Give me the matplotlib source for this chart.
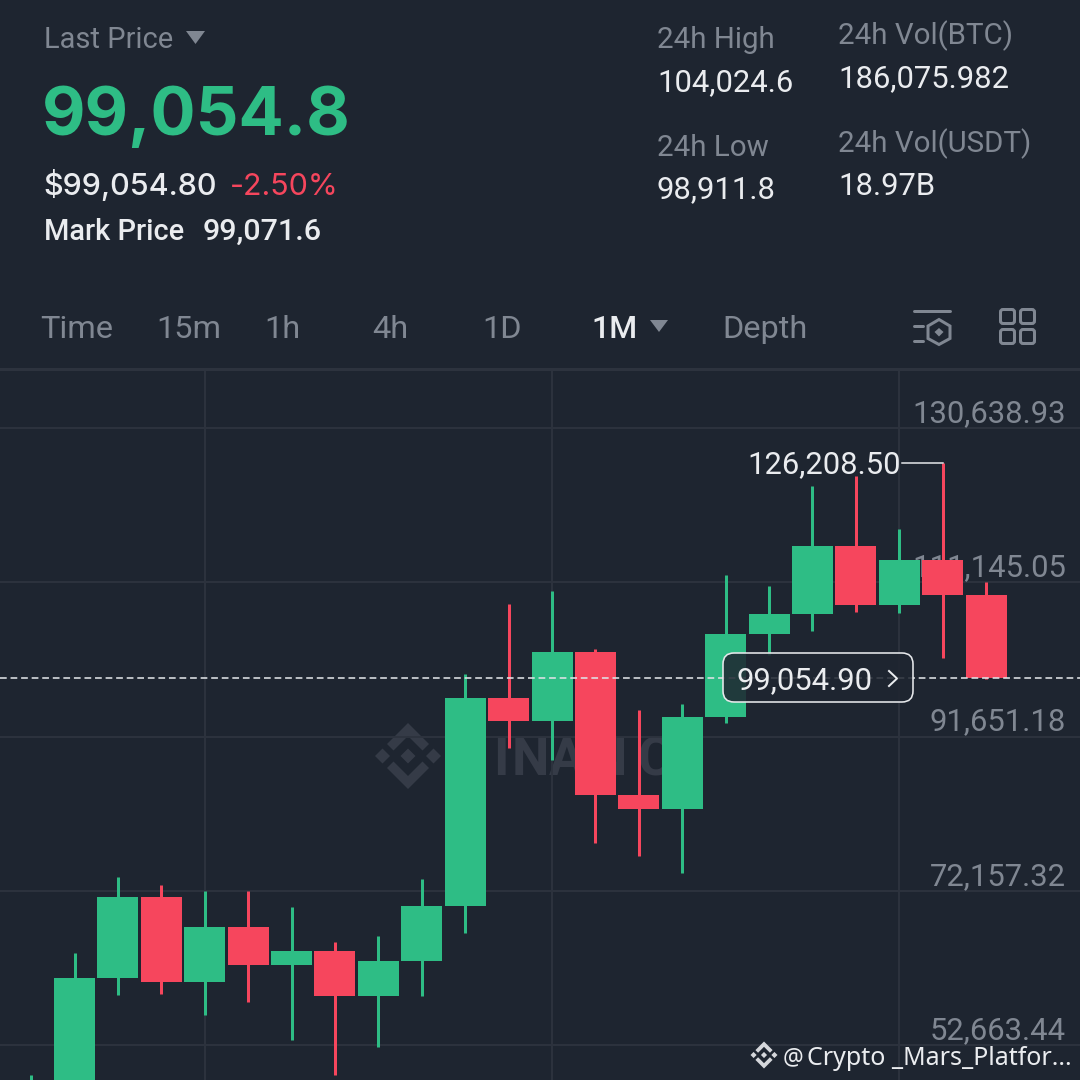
import matplotlib
matplotlib.use("Agg")
import matplotlib.pyplot as plt
from matplotlib.patches import Polygon, FancyBboxPatch, Rectangle

plt.rcParams['font.family'] = ['Roboto', 'DejaVu Sans']

BG = '#1e2530'
GRID = '#2d333e'
GREEN = '#2ebd85'
RED = '#f6465d'
GREY = '#808792'
WHITE = '#eaecef'

# monthly candles, left to right
opens = [40000, 45000, 61130, 71367, 60624, 67575, 62773, 64542, 58855, 63278, 70229, 96516,
         93610, 102330, 84258, 82488, 94115, 104605, 107132, 115726, 108270, 113957, 109534]
closes = [45000, 61130, 71367, 60624, 67575, 62773, 64542, 58855, 63278, 70229, 96516, 93610,
          102330, 84258, 82488, 94115, 104605, 107132, 115726, 108270, 113957, 109534, 99054.9]
highs = [48871, 64289, 73894, 72883, 72125, 72125, 70103, 65680, 66438, 73642, 99550, 108396,
         110039, 102709, 95000, 95758, 112061, 110671, 123309, 124573, 117875, 126208.5, 111176]
lows = [38000, 40000, 58982, 59108, 56454, 58097, 53294, 48871, 52410, 58855, 66817, 90197,
        88681, 78191, 76548, 74400, 93357, 101951, 104984, 107385, 107259, 101572, 98917]

price_ticks = [130638.93, 111145.05, 91651.18, 72157.32, 52663.44]
price_labels = ['130,638.93', '111,145.05', '91,651.18', '72,157.32', '52,663.44']
time_ticks = [4, 12, 20]
last_price = 99054.9
high_label = '126,208.50'

tabs = ['Time', '15m', '1h', '4h', '1D', '1M', 'Depth']
tab_x = [40, 156, 264, 372, 482, 591, 722]

wm_letters = ['B', 'I', 'N', 'A', 'N', 'C']
wm_x = [450, 493, 512, 549, 590, 638]

fig = plt.figure(figsize=(10.8, 10.8), dpi=100, facecolor=BG)


def px(size):
    return size * 0.72


# chart area, pixel row 369 down to 1080
ax = fig.add_axes([0, 0, 1, 711 / 1080], facecolor=BG)
step = 43.41
ax.set_xlim(1 - 74.5 / step, 1 + (1080 - 74.5) / step)
slope = (price_ticks[0] - price_ticks[-1]) / (1045 - 428)
ax.set_ylim(price_ticks[0] - (1080 - 428) * slope, price_ticks[0] - (369 - 428) * slope)
for s in ax.spines.values():
    s.set_visible(False)
ax.set_xticks([])
ax.set_yticks([])

for t in price_ticks:
    ax.axhline(t, color=GRID, lw=1.4, zorder=1)
for t in time_ticks:
    ax.axvline(t, color=GRID, lw=1.4, zorder=1)

for t, lab in zip(price_ticks, price_labels):
    ax.annotate(lab, xy=(1, t), xycoords=('axes fraction', 'data'), xytext=(px(-14), px(6)),
                textcoords='offset points', ha='right', va='baseline', fontsize=px(31),
                color=GREY, zorder=2)

# candles
for i in range(len(opens)):
    c = GREEN if closes[i] >= opens[i] else RED
    ax.vlines(i, lows[i], highs[i], color=c, lw=px(3), zorder=4)
    ax.bar(i, abs(closes[i] - opens[i]), bottom=min(opens[i], closes[i]), width=41 / step,
           color=c, zorder=5)

ax.axhline(last_price, color='#dfe2e6', lw=px(1.6), dashes=(4.2, 2.4), zorder=6)

# everything else in pixel coordinates
ui = fig.add_axes([0, 0, 1, 1], facecolor='none')
ui.set_xlim(0, 1080)
ui.set_ylim(1080, 0)
ui.axis('off')

# watermark goes under the candles
wm = fig.add_axes([0, 0, 1, 1], facecolor='none', zorder=-1)
wm.set_xlim(0, 1080)
wm.set_ylim(1080, 0)
wm.axis('off')
ax.set_zorder(0)
ui.set_zorder(2)


def logo(a, cx, cy, r, color, z=3):
    # binance diamond mark, r is half of the full width
    u = r / 33
    shapes = [
        [(0, -7.5), (7.5, 0), (0, 7.5), (-7.5, 0)],
        [(-33, 0), (-25.5, -7.5), (-18, 0), (-25.5, 7.5)],
        [(33, 0), (25.5, -7.5), (18, 0), (25.5, 7.5)],
        [(0, -33), (21, -12), (14.5, -5.5), (0, -20), (-14.5, -5.5), (-21, -12)],
        [(0, 33), (21, 12), (14.5, 5.5), (0, 20), (-14.5, 5.5), (-21, 12)],
    ]
    for sh in shapes:
        a.add_patch(Polygon([(cx + x * u, cy + y * u) for x, y in sh], closed=True,
                            fc=color, ec='none', zorder=z))


def label(x, y, s, size, color=GREY, weight='normal', ha='left', a=ui, family=None):
    a.text(x, y, s, fontsize=px(size), color=color, fontweight=weight, ha=ha, va='baseline',
           family=family)


# header
label(44, 48, 'Last Price', 29)
ui.add_patch(Polygon([(186, 31), (205, 31), (195.5, 44)], fc=GREY, ec='none'))
label(42, 135, '99,054.8', 67, GREEN, 'bold', family='Inter')
label(43, 195, '$99,054.80', 30.5, WHITE, 'medium', family='Inter')
label(230, 195, '-2.50%', 30.5, RED, family='Inter')
label(44, 240, 'Mark Price', 29, WHITE, 'medium')
label(203, 240, '99,071.6', 30.5, WHITE, 'medium')

label(657, 48, '24h High', 29.5)
label(657, 91, '104,024.6', 31, WHITE)
label(657, 156, '24h Low', 29.5)
label(656, 198, '98,911.8', 31, WHITE)
label(838, 44, '24h Vol(BTC)', 29.5)
label(838, 87, '186,075.982', 31, WHITE)
label(838, 152, '24h Vol(USDT)', 29.5)
label(838, 195, '18.97B', 31, WHITE)

# tab row
for name, x in zip(tabs, tab_x):
    if name == '1M':
        label(x, 338, name, 32, WHITE, 'medium')
    else:
        label(x, 338, name, 32.5)
ui.add_patch(Polygon([(650, 320), (668, 320), (659, 332)], fc=GREY, ec='none'))
ui.plot([0, 1080], [369, 369], color=GRID, lw=px(3))

# tool icons
ic = {'color': GREY, 'lw': px(3), 'solid_capstyle': 'round'}
ui.plot([914, 950], [311, 311], **ic)
ui.plot([914, 923], [326, 326], **ic)
ui.plot([914, 923], [341, 341], **ic)
ui.add_patch(Polygon([(939, 319.5), (950, 326), (950, 338.5), (939, 344.5), (928, 338.5), (928, 326)],
                     closed=True, fc='none', ec=GREY, lw=px(3)))
ui.add_patch(Polygon([(939, 328), (943.5, 332), (939, 336.5), (934.5, 332)], fc=GREY, ec='none'))
for x0 in (1000.5, 1020.5):
    for y0 in (309.5, 329.5):
        ui.add_patch(FancyBboxPatch((x0 + 1, y0 + 1), 12, 12, boxstyle='round,pad=1,rounding_size=2.5',
                                    fc='none', ec=GREY, lw=px(3)))

# highest price marker
ui.plot([902, 943], [463, 463], color=WHITE, lw=px(1.5))
label(901, 473, high_label, 31, WHITE, ha='right')

# last price box
ui.add_patch(FancyBboxPatch((733, 663), 170, 29, boxstyle='round,pad=10,rounding_size=11',
                            fc=BG, ec='none', alpha=0.86))
ui.add_patch(FancyBboxPatch((733, 663), 170, 29, boxstyle='round,pad=10,rounding_size=11',
                            fc='none', ec='#e6e8eb', lw=px(1.6)))
label(737, 689, '99,054.90', 31, WHITE)
ui.plot([889, 897, 889], [671, 678.5, 686], color=WHITE, lw=px(2))

# bottom right credit
logo(ui, 764, 1055, 13.5, '#d5d7db')
label(783, 1064, '@', 23, WHITE, family='Noto Sans')
label(807, 1065, 'Crypto _Mars_Platfor...', 25, WHITE, family='Noto Sans')

# watermark pieces
ax.patch.set_alpha(0)
wm.add_patch(Rectangle((0, 369), 1080, 711, fc=BG, ec='none', zorder=0))
logo(wm, 408, 756, 33, '#353b47')
for ch, x in zip(wm_letters, wm_x):
    label(x, 775, ch, 53, '#353b47', 'bold', a=wm)

fig.savefig('out.png', dpi=100, facecolor=BG)
